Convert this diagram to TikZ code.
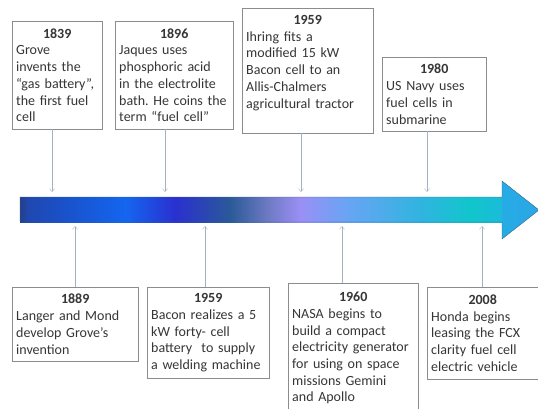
\documentclass[tikz,border=0pt]{standalone}
\usepackage{fontspec}
\setmainfont{Carlito}
\usetikzlibrary{arrows.meta,positioning,calc}

\definecolor{boxgray}{HTML}{8C8C8C}
\definecolor{linkgray}{HTML}{A4B2C0}
\definecolor{rimblue}{HTML}{3C6488}
\definecolor{headblue}{HTML}{2AA6E6}
\definecolor{headlite}{HTML}{26ACE4}
\definecolor{inkgray}{HTML}{363636}
\definecolor{c0}{HTML}{24408A}
\definecolor{c1}{HTML}{2048B0}
\definecolor{c2}{HTML}{1A50C8}
\definecolor{c3}{HTML}{1466F0}
\definecolor{c4}{HTML}{2A30D0}
\definecolor{c5}{HTML}{2A5A98}
\definecolor{c6}{HTML}{6A78C0}
\definecolor{c7}{HTML}{9A8FF5}
\definecolor{c8}{HTML}{6AA4F4}
\definecolor{c9}{HTML}{30B4E0}
\definecolor{c10}{HTML}{10C6CC}
\definecolor{c11}{HTML}{1CBADA}

\newcommand{\evfont}{\fontsize{14}{16.7}\selectfont}
\newcommand{\yr}[1]{\hfill\textbf{#1}\hfill\null}
\newcommand{\padb}[1]{\rule[-#1]{0pt}{#1}}
\frenchspacing

\tikzset{
  event/.style={draw=boxgray, fill=white, text=inkgray, anchor=north west, inner sep=4pt, align=left, font=\evfont},
  conn/.style={draw=linkgray, thin, -{Straight Barb[length=3pt,width=5pt]}},
}

\begin{document}
\begin{tikzpicture}[x=1pt,y=-1pt]
\useasboundingbox (0,0) rectangle (538,408);

% timeline arrow
\foreach \xa/\xb/\ca/\cb in {20/28/c0/c1, 28/60/c1/c2, 60/125/c2/c3, 125/175/c3/c4,
  175/230/c4/c5, 230/265/c5/c6, 265/300/c6/c7, 300/345/c7/c8, 345/420/c8/c9,
  420/470/c9/c10, 470/503/c10/c11}
  \shade[left color=\ca, right color=\cb] (\xa,197) rectangle (\xb+0.6,222);
\shade[left color=headlite, right color=headblue] (502,181) -- (539,210) -- (502,239) -- cycle;
\draw[rimblue, line join=miter] (20,197) -- (502,197) -- (502,181) -- (539,210)
  -- (502,239) -- (502,222) -- (20,222) -- cycle;

% events above
\node[event, text width=82pt, minimum height=108pt] (t1839) at (12,21)
  {\yr{1839}\\Grove\\invents the\\“gas battery”,\\the first fuel\\cell};
\node[event, text width=110pt, minimum height=108pt] (t1896) at (115,21)
  {\yr{1896}\\Jaques uses\\phosphoric acid\\in the electrolite\\bath. He coins the\\term “fuel cell”};
\node[event, text width=123pt, minimum height=125pt] (t1959) at (242,8)
  {\yr{1959}\\Ihring fits a\\modified 15 kW\\Bacon cell to an\\Allis-Chalmers\\agricultural tractor\padb{18pt}};
\node[event, text width=96pt, minimum height=74pt] (t1980) at (382,57)
  {\yr{1980}\\US Navy uses\\fuel cells in\\submarine};

% events below
\node[event, text width=118pt, minimum height=74pt] (b1889) at (12,287)
  {\yr{1889}\\Langer and Mond\\develop Grove’s\\invention};
\node[event, text width=114pt, minimum height=91pt] (b1959) at (147,287)
  {\yr{1959}\\Bacon realizes a 5\\kW forty- cell\\battery~ to supply\\a welding machine};
\node[event, text width=122pt, minimum height=130pt] (b1960) at (288,283)
  {\yr{1960}\\NASA begins to\\build a compact\\electricity generator\\for using on space\\missions Gemini\\and Apollo};
\node[event, text width=103pt, minimum height=92pt] (b2008) at (427,287)
  {\yr{2008}\\Honda begins\\leasing the FCX\\clarity fuel cell\\electric vehicle};

% pointers
\coordinate (d1839) at (52,192);
\coordinate (d1896) at (165,192);
\coordinate (d1959) at (301,192);
\coordinate (d1980) at (427,192);
\coordinate (u1889) at (75,226);
\coordinate (u1959) at (205,226);
\coordinate (u1960) at (342,226);
\coordinate (u2008) at (482,226);

\draw[conn] (t1839.south -| d1839) -- (d1839);
\draw[conn] (t1896.south -| d1896) -- (d1896);
\draw[conn] (t1959.south -| d1959) -- (d1959);
\draw[conn] (t1980.south -| d1980) -- (d1980);
\draw[conn] (b1889.north -| u1889) -- (u1889);
\draw[conn] (b1959.north -| u1959) -- (u1959);
\draw[conn] (b1960.north -| u1960) -- (u1960);
\draw[conn] (b2008.north -| u2008) -- (u2008);

\end{tikzpicture}
\end{document}
